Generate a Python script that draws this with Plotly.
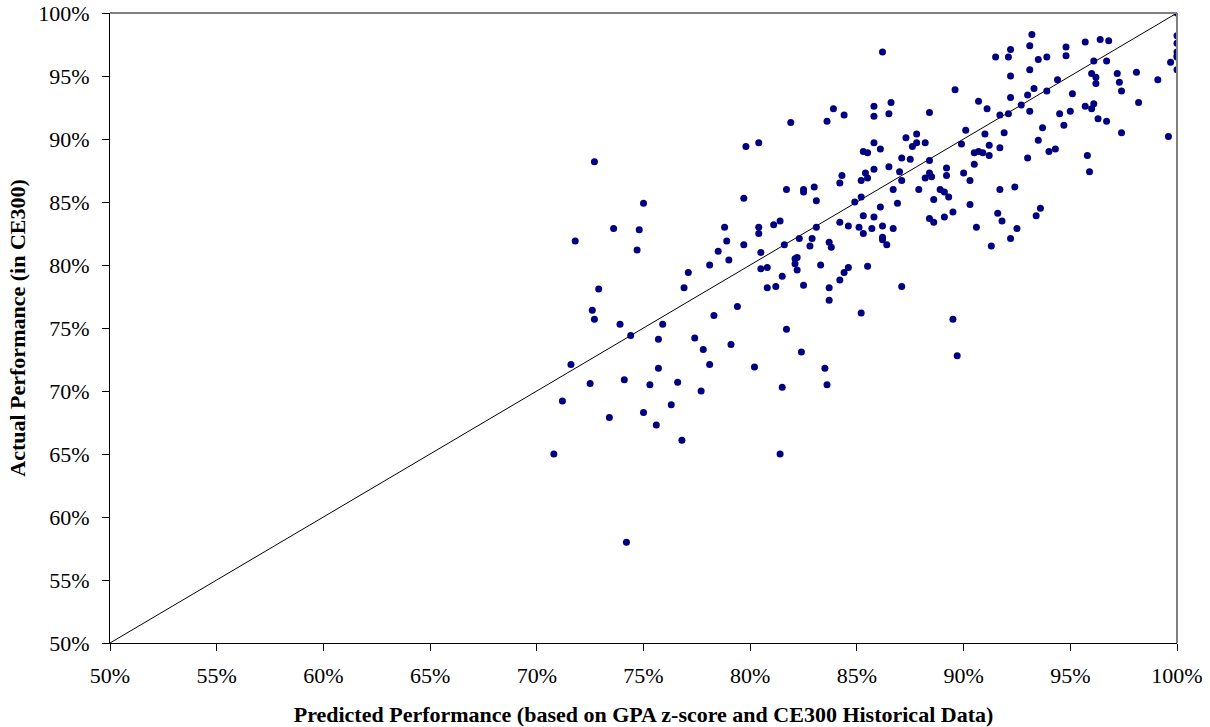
import plotly.graph_objects as go

predicted = [
    72.7, 75.0, 73.6, 74.8, 71.8, 74.7, 79.8, 80.4, 79.7, 78.8, 80.4, 80.4, 78.9, 79.7, 78.5, 79.0,
    80.5, 78.1, 77.1, 80.5, 80.8, 76.9, 80.8, 72.9, 72.6, 72.7, 79.4, 78.3, 73.9, 75.9, 74.4, 75.7,
    77.4, 79.1, 77.8,
    71.6, 78.1, 80.2, 75.7, 72.5, 74.1, 75.3, 76.6, 77.7, 71.2, 76.3, 73.4, 75.0, 75.6, 76.8, 70.8, 74.2,
    81.9, 83.9, 83.6, 84.4, 85.8, 85.8, 86.6, 86.5, 89.6, 90.7, 88.4, 87.3, 87.8, 87.6, 87.8, 88.2,
    90.1, 89.9, 90.5, 90.7, 90.5, 85.3, 85.5, 85.8, 86.1, 87.1, 87.5, 88.4, 86.5, 85.8, 85.4, 85.5,
    85.2, 84.3, 84.2, 87.0, 87.1, 88.4, 88.5, 88.2, 89.2, 89.2, 90.0, 90.3, 81.7, 82.5, 82.5, 83.0,
    83.1, 86.7, 87.9, 88.9, 89.1, 89.3, 88.6, 90.3, 85.2, 84.9, 86.9, 86.1, 85.3, 85.8, 84.2, 84.6,
    86.2, 85.1, 85.3, 85.7, 86.7, 88.4, 88.6, 89.1, 89.5, 90.6, 81.1, 81.4, 83.1, 82.3, 82.9, 81.6,
    83.7, 83.8, 82.8, 86.2, 86.2, 86.4,
    82.1, 82.2, 82.1, 82.2, 83.3, 81.5, 81.2, 82.5, 83.7, 84.2, 84.4, 84.6, 85.5, 87.1, 83.7, 85.2,
    89.5, 81.7, 82.4, 89.7, 83.5, 83.6, 81.5, 81.4,
    86.2,
    100.0, 100.0, 100.0, 100.0, 100.0, 100.0, 100.0, 99.7, 99.6, 93.2, 93.1, 92.2, 92.1, 91.5, 93.5, 93.9,
    93.1, 92.2, 94.8, 94.8, 95.7, 96.4, 96.8, 96.1, 96.7, 96.0, 96.2, 96.2, 97.2, 97.3, 97.4, 98.1,
    99.1, 98.2, 94.4, 93.3, 93.0, 93.9, 92.2, 95.1, 91.1, 92.7, 93.1, 91.7, 92.1, 95.7, 96.0, 96.1,
    94.5, 95.0, 94.7, 96.3, 96.7, 97.4, 91.0, 91.9, 93.7, 93.5, 90.9, 91.2, 91.2, 91.7, 93.0, 94.0,
    94.3, 95.8, 95.9,
    91.7, 92.4, 91.6, 91.8, 92.5, 92.2, 91.3, 93.4, 93.6,
]

actual = [
    88.2, 84.9, 82.9, 82.8, 81.9, 81.2, 89.4, 89.7, 85.3, 83.0, 83.0, 82.5, 81.9, 81.6, 81.1, 80.4,
    81.0, 80.0, 79.4, 79.7, 79.8, 78.2, 78.2, 78.1, 76.4, 75.7, 76.7, 76.0, 75.3, 75.3, 74.4, 74.1,
    74.2, 73.7, 73.3,
    72.1, 72.1, 71.9, 71.8, 70.6, 70.9, 70.5, 70.7, 70.0, 69.2, 68.9, 67.9, 68.3, 67.3, 66.1, 65.0, 58.0,
    91.3, 92.4, 91.4, 91.9, 92.6, 91.8, 92.9, 92.0, 93.9, 93.0, 92.1, 90.1, 90.4, 89.4, 89.7, 89.7,
    90.7, 89.6, 88.9, 89.0, 88.0, 89.0, 88.9, 89.7, 89.2, 88.5, 88.4, 88.3, 87.8, 87.6, 87.3, 86.9,
    86.7, 87.1, 86.5, 87.4, 86.7, 87.3, 87.0, 86.9, 87.7, 87.1, 87.3, 86.7, 86.0, 86.0, 85.8, 86.2,
    85.1, 86.0, 86.0, 86.0, 85.8, 85.4, 85.2, 84.8, 85.4, 85.0, 84.9, 84.6, 83.9, 83.8, 83.4, 83.1,
    83.1, 83.0, 82.5, 82.9, 82.9, 83.7, 83.4, 83.8, 84.2, 83.0, 83.2, 83.5, 83.0, 82.1, 82.1, 81.6,
    81.8, 81.4, 81.5, 82.2, 82.0, 81.6,
    80.5, 80.6, 80.1, 79.6, 80.0, 79.1, 78.3, 78.4, 78.2, 78.8, 79.4, 79.8, 79.9, 78.3, 77.2, 76.2,
    75.7, 74.9, 73.1, 72.8, 71.8, 70.5, 70.3, 65.0,
    96.9,
    100.0, 98.2, 97.6, 96.9, 96.6, 96.5, 95.5, 96.1, 90.2, 98.3, 97.4, 97.1, 96.5, 96.5, 96.3, 96.5,
    95.5, 95.0, 97.3, 96.6, 97.7, 97.9, 97.8, 96.2, 96.2, 95.2, 94.9, 94.4, 95.2, 94.5, 93.8, 95.3,
    94.7, 92.9, 94.7, 94.0, 93.5, 93.8, 93.3, 93.6, 92.4, 92.7, 92.2, 91.9, 92.0, 92.6, 92.4, 92.8,
    92.0, 92.2, 91.1, 91.6, 91.4, 90.5, 90.4, 90.5, 90.9, 89.9, 88.9, 89.5, 88.7, 89.3, 88.5, 89.0,
    89.2, 88.7, 87.4,
    86.0, 86.2, 84.1, 83.5, 82.9, 82.1, 81.5, 83.9, 84.5,
]

ref_line = [50, 100]
tick_vals = [50, 55, 60, 65, 70, 75, 80, 85, 90, 95, 100]
tick_text = [f"{v}%" for v in tick_vals]

fig = go.Figure()
fig.add_trace(go.Scatter(x=ref_line, y=ref_line, mode="lines",
                         line=dict(color="black", width=1), hoverinfo="skip", showlegend=False))
fig.add_trace(go.Scatter(x=predicted, y=actual, mode="markers",
                         marker=dict(color="#000080", size=7, line=dict(width=0)), showlegend=False))

font_family = "Liberation Serif, Times New Roman, serif"
fig.update_layout(
    width=1210, height=727,
    margin=dict(l=110, r=33, t=13, b=84),
    paper_bgcolor="white", plot_bgcolor="white",
    font=dict(family=font_family, size=22, color="black"),
    xaxis=dict(range=[50, 100], tickvals=tick_vals, ticktext=tick_text, showgrid=False, zeroline=False,
               showline=True, linecolor="black", linewidth=1, ticks="outside", ticklen=7, tickcolor="black",
               automargin=False, ticklabelstandoff=6,
               title=dict(text="<b>Predicted Performance (based on GPA z-score and CE300 Historical Data)</b>",
                          font=dict(size=22), standoff=19)),
    yaxis=dict(range=[50, 100], tickvals=tick_vals, ticktext=tick_text, showgrid=False, zeroline=False,
               showline=True, linecolor="black", linewidth=1, ticks="outside", ticklen=7, tickcolor="black",
               automargin=False, ticklabelstandoff=8,
               title=dict(text="<b>Actual Performance (in CE300)</b>", font=dict(size=22), standoff=6)),
    shapes=[
        dict(type="line", xref="x domain", yref="y domain", x0=0, x1=1, y0=1, y1=1,
             line=dict(color="#808080", width=2)),
        dict(type="line", xref="x domain", yref="y domain", x0=1, x1=1, y0=0, y1=1,
             line=dict(color="#808080", width=2)),
    ],
)

fig.write_html("out.html")
